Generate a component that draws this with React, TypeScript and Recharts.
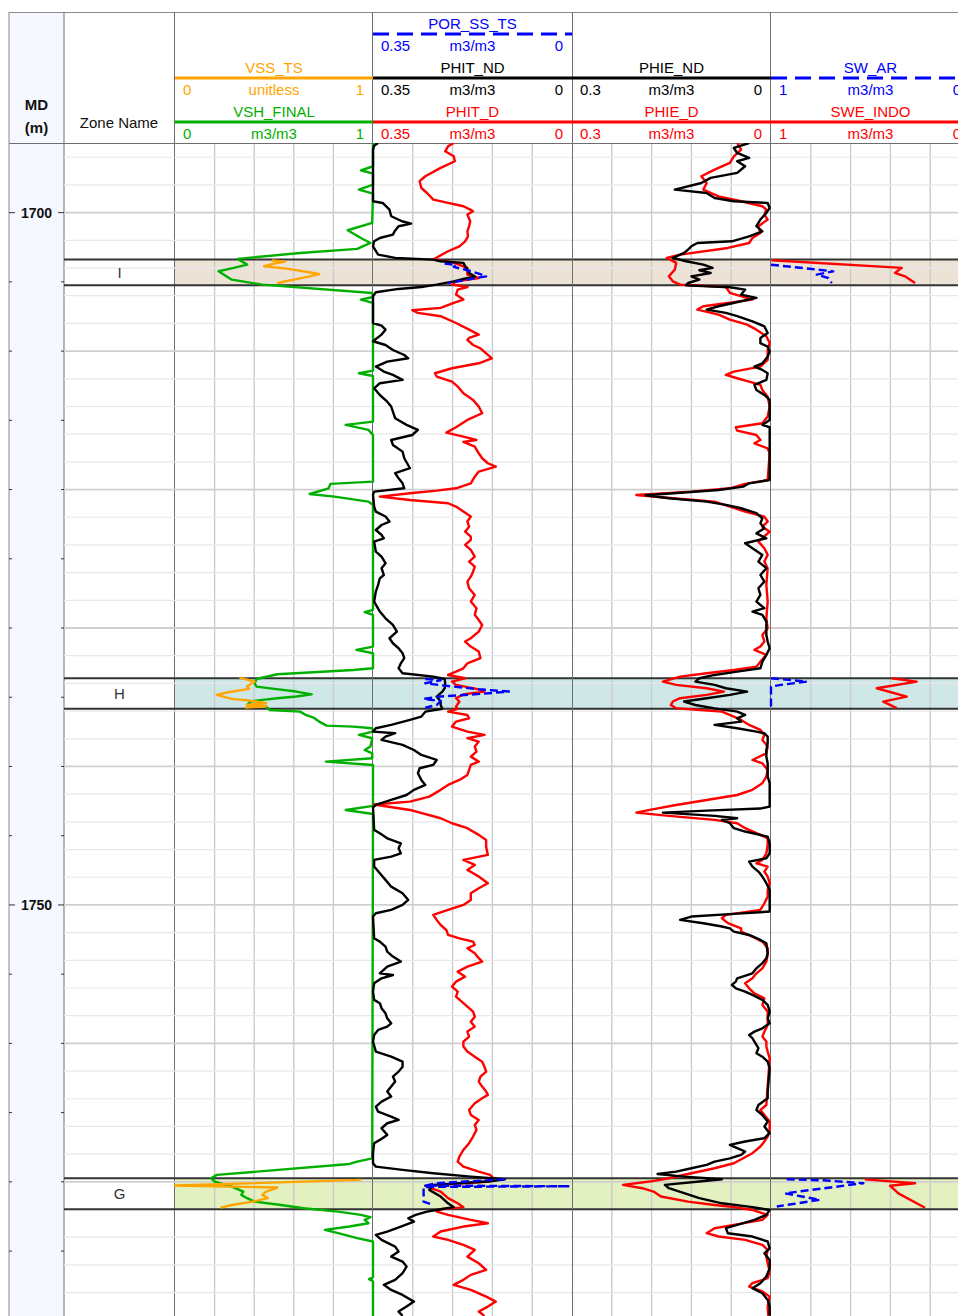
import React from "react";
import { LineChart, Line, XAxis, YAxis, ReferenceLine, ReferenceArea } from "recharts";

type Pt = [number, number | null];

// depth window of the plot (m MD)
const MD_TOP = 1694.97;
const MD_BASE = 1779.69;
const PLOT_TOP = 143;
const PLOT_H = 1173;

const FONT = '"Liberation Sans", Arial, Helvetica, sans-serif';
const BLUE = "#0000ff";
const RED = "#ff0000";
const GREEN = "#00b000";
const ORANGE = "#ffa500";
const BLACK = "#000000";

// zones
const zoneNames = ["I", "H", "G"];
const zoneTops = [1703.39, 1733.63, 1769.74];
const zoneBases = [1705.25, 1735.84, 1771.98];
const zoneFills = ["#ece2d5", "#cfe8e7", "#e3f0c0"];

// depth ticks / grid
const mdLabels = [1700, 1750];
const range = (a: number, b: number, step: number) => {
  const out: number[] = [];
  for (let v = a; v <= b + 1e-9; v += step) out.push(Math.round(v * 1000) / 1000);
  return out;
};
const mdTicks = range(1700, 1775, 5);
const gridMd = range(1696, 1778, 2);

// vertical grid per track
const vshGrid = [0.2, 0.4, 0.6, 0.8];
const phitGrid = [0.07, 0.14, 0.21, 0.28];
const phieGrid = [0.06, 0.12, 0.18, 0.24];
const swGrid = [0.2, 0.4, 0.6, 0.8];

// ---- curves: [MD, value]; null splits a curve into separate runs ----
const vshFinal: Pt[] = [
  [1694.97, 1], [1696.65, 1], [1696.94, 0.939], [1697.18, 1], [1697.98, 1], [1698.34, 0.929], [1698.63, 1],
  [1700.74, 0.996], [1701.27, 0.872], [1701.83, 0.939], [1702.19, 0.987], [1702.62, 0.92], [1702.91, 0.632],
  [1703.34, 0.316], [1703.75, 0.364], [1703.99, 0.297], [1704.23, 0.22], [1704.84, 0.287], [1705.2, 0.441],
  [1705.8, 0.996], [1706.09, 1], [1706.28, 0.939], [1706.52, 1], [1711.41, 1], [1711.6, 0.929], [1711.8, 1],
  [1715.09, 1], [1715.33, 0.862], [1715.69, 0.977], [1716.06, 1], [1719.43, 1], [1719.59, 0.785], [1719.91, 0.776],
  [1720.32, 0.68], [1720.51, 0.805], [1720.87, 0.977], [1721.11, 1], [1728.69, 1], [1728.86, 0.958], [1729.05, 1],
  [1731.34, 1], [1731.58, 0.916], [1731.82, 1], [1732.91, 1], [1733.03, 0.9], [1733.34, 0.517], [1733.68, 0.412],
  [1733.99, 0.402], [1734.23, 0.412], [1734.4, 0.502], [1734.59, 0.613], [1734.79, 0.69], [1734.95, 0.613],
  [1735.07, 0.517], [1735.19, 0.441], [1735.31, 0.383], [1735.56, 0.364], [1735.68, 0.46], [1735.92, 0.479],
  [1736.04, 0.632], [1736.28, 0.661], [1736.47, 0.699], [1736.76, 0.728], [1737.05, 0.766], [1737.12, 0.9],
  [1737.24, 0.996], [1737.48, 1], [1737.72, 0.929], [1737.96, 0.996], [1738.56, 0.987], [1738.81, 0.958],
  [1739.05, 0.996], [1739.41, 0.996], [1739.65, 0.762], [1739.89, 1], [1742.85, 1], [1743.14, 0.862], [1743.43, 1],
  [1768.3, 0.996], [1768.54, 0.92], [1768.71, 0.881], [1769.5, 0.211], [1769.74, 0.182], [1769.98, 0.201],
  [1770.34, 0.287], [1770.7, 0.345], [1770.94, 0.335], [1771.18, 0.364], [1771.43, 0.402], [1771.67, 0.536],
  [1771.91, 0.65], [1772.15, 0.824], [1772.39, 0.939], [1772.56, 0.987], [1772.75, 0.958], [1772.99, 0.977],
  [1773.23, 0.881], [1773.47, 0.757], [1773.71, 0.824], [1774.07, 0.92], [1774.31, 1], [1776.89, 1],
  [1777.03, 0.98], [1777.18, 1], [1779.69, 1],
];

const vssTs: Pt[] = [
  [1703.46, 0.489], [1703.54, 0.556], [1703.68, 0.5], [1703.87, 0.45], [1704.06, 0.575], [1704.43, 0.728],
  [1704.6, 0.68], [1705.08, 0.517], [1720, null],
  [1733.58, 0.326], [1733.87, 0.402], [1734.23, 0.364], [1734.4, 0.374], [1734.64, 0.268], [1734.83, 0.211],
  [1735.12, 0.287], [1735.24, 0.374], [1735.43, 0.46], [1735.55, 0.364], [1735.65, 0.46], [1735.75, 0.354], [1750, null],
  [1769.86, 0.939], [1770.27, 0], [1770.41, 0.517], [1770.7, 0.46], [1770.94, 0.441], [1771.18, 0.469],
  [1771.43, 0.393], [1771.67, 0.287], [1771.86, 0.23],
];

const phitNd: Pt[] = [
  [1694.97, 0.341], [1695.16, 0.348], [1695.45, 0.35], [1699.18, 0.35], [1699.3, 0.333], [1699.78, 0.321],
  [1700.26, 0.318], [1700.62, 0.299], [1700.79, 0.283], [1700.98, 0.305], [1701.35, 0.312], [1701.59, 0.315],
  [1701.83, 0.338], [1702.07, 0.348], [1702.43, 0.35], [1703.03, 0.341], [1703.27, 0.311], [1703.39, 0.244],
  [1703.51, 0.231], [1703.63, 0.191], [1703.87, 0.188], [1704.11, 0.184], [1704.36, 0.181], [1704.6, 0.171],
  [1704.79, 0.191], [1704.96, 0.208], [1705.2, 0.238], [1705.37, 0.265], [1705.51, 0.305], [1705.75, 0.345],
  [1706.04, 0.35], [1707.97, 0.35], [1708.16, 0.335], [1708.45, 0.328], [1708.81, 0.335], [1709.29, 0.35],
  [1709.56, 0.328], [1709.92, 0.315], [1710.28, 0.295], [1710.52, 0.288], [1710.76, 0.325], [1711.12, 0.345],
  [1711.48, 0.331], [1711.72, 0.315], [1712.08, 0.298], [1712.32, 0.338], [1712.69, 0.348], [1713.17, 0.338],
  [1713.65, 0.325], [1714.01, 0.318], [1714.37, 0.315], [1714.85, 0.311], [1715.33, 0.291], [1715.69, 0.271],
  [1716.06, 0.281], [1716.42, 0.318], [1716.78, 0.315], [1717.26, 0.298], [1717.74, 0.295], [1718.46, 0.285],
  [1718.82, 0.311], [1719.19, 0.305], [1719.55, 0.298], [1719.91, 0.295], [1720.15, 0.348], [1720.39, 0.35],
  [1721.23, 0.348], [1721.59, 0.345], [1721.95, 0.328], [1722.31, 0.321], [1722.56, 0.335], [1722.92, 0.345],
  [1723.28, 0.335], [1723.52, 0.331], [1723.76, 0.348], [1724.48, 0.345], [1724.84, 0.335], [1725.32, 0.328],
  [1725.68, 0.335], [1726.17, 0.331], [1726.41, 0.338], [1726.89, 0.341], [1727.37, 0.345], [1728.09, 0.348],
  [1728.81, 0.338], [1729.3, 0.328], [1729.78, 0.315], [1730.26, 0.308], [1730.74, 0.321], [1731.1, 0.315],
  [1731.46, 0.305], [1731.82, 0.298], [1732.18, 0.295], [1732.55, 0.301], [1732.91, 0.305], [1733.27, 0.298],
  [1733.51, 0.244], [1733.68, 0.224], [1733.99, 0.223], [1734.35, 0.224], [1734.59, 0.228], [1734.95, 0.238],
  [1735.31, 0.231], [1735.56, 0.231], [1735.84, 0.228], [1736.04, 0.258], [1736.4, 0.265], [1736.64, 0.285],
  [1737.0, 0.318], [1737.24, 0.345], [1737.48, 0.35], [1737.6, 0.311], [1737.84, 0.328], [1738.08, 0.335],
  [1738.44, 0.298], [1738.81, 0.278], [1739.17, 0.265], [1739.53, 0.238], [1739.89, 0.244], [1740.13, 0.268],
  [1740.49, 0.271], [1740.97, 0.265], [1741.33, 0.258], [1741.69, 0.278], [1742.06, 0.291], [1742.42, 0.318],
  [1742.78, 0.345], [1742.95, 0.35], [1744.58, 0.348], [1744.82, 0.338], [1745.19, 0.325], [1745.55, 0.301],
  [1745.91, 0.305], [1746.27, 0.301], [1746.51, 0.318], [1746.75, 0.348], [1747.23, 0.348], [1747.71, 0.338],
  [1748.19, 0.328], [1748.68, 0.318], [1749.16, 0.298], [1749.64, 0.288], [1750.0, 0.298], [1750.36, 0.318],
  [1750.6, 0.345], [1750.84, 0.35], [1752.41, 0.348], [1752.65, 0.338], [1753.01, 0.328], [1753.37, 0.325],
  [1753.73, 0.315], [1754.09, 0.301], [1754.46, 0.325], [1754.94, 0.338], [1755.06, 0.315], [1755.3, 0.335],
  [1755.66, 0.348], [1756.26, 0.35], [1756.86, 0.348], [1757.1, 0.338], [1757.46, 0.335], [1757.83, 0.328],
  [1758.19, 0.325], [1758.55, 0.318], [1758.79, 0.325], [1759.03, 0.341], [1759.39, 0.348], [1759.87, 0.35],
  [1760.59, 0.345], [1760.96, 0.318], [1761.32, 0.298], [1761.68, 0.298], [1762.04, 0.305], [1762.4, 0.315],
  [1762.76, 0.311], [1763.12, 0.318], [1763.48, 0.325], [1763.84, 0.318], [1764.21, 0.335], [1764.57, 0.345],
  [1764.93, 0.341], [1765.29, 0.318], [1765.53, 0.305], [1765.77, 0.325], [1766.13, 0.335], [1766.61, 0.325],
  [1766.97, 0.338], [1767.21, 0.348], [1767.93, 0.35], [1768.66, 0.35], [1768.9, 0.345], [1769.14, 0.298],
  [1769.38, 0.244], [1769.62, 0.178], [1769.81, 0.118], [1769.96, 0.144], [1770.22, 0.244], [1770.58, 0.251],
  [1771.06, 0.231], [1771.55, 0.218], [1771.83, 0.208], [1771.98, 0.231], [1772.15, 0.255], [1772.39, 0.275],
  [1772.63, 0.288], [1772.87, 0.278], [1773.23, 0.301], [1773.59, 0.325], [1773.83, 0.345], [1774.19, 0.335],
  [1774.68, 0.311], [1775.04, 0.305], [1775.4, 0.318], [1775.76, 0.298], [1776.12, 0.291], [1776.6, 0.298],
  [1777.08, 0.311], [1777.44, 0.331], [1777.81, 0.318], [1778.17, 0.298], [1778.65, 0.278], [1779.01, 0.291],
  [1779.37, 0.305], [1779.68, 0.298],
];

const phitD: Pt[] = [
  [1694.97, 0.208], [1695.21, 0.218], [1695.57, 0.223], [1695.93, 0.208], [1696.29, 0.206], [1696.77, 0.231],
  [1697.37, 0.258], [1697.73, 0.268], [1698.22, 0.265], [1698.58, 0.255], [1699.06, 0.244], [1699.3, 0.218],
  [1699.54, 0.191], [1699.78, 0.179], [1699.9, 0.174], [1700.14, 0.184], [1700.62, 0.179], [1700.98, 0.181],
  [1701.35, 0.184], [1701.71, 0.183], [1702.07, 0.188], [1702.43, 0.198], [1702.79, 0.218], [1703.15, 0.234],
  [1703.39, 0.244], [1703.58, 0.211], [1703.99, 0.184], [1704.48, 0.184], [1704.72, 0.164], [1704.96, 0.204],
  [1705.2, 0.211], [1705.37, 0.184], [1705.56, 0.201], [1705.92, 0.204], [1706.28, 0.191], [1706.52, 0.208],
  [1706.88, 0.231], [1707.05, 0.281], [1707.24, 0.271], [1707.48, 0.231], [1707.97, 0.204], [1708.45, 0.181],
  [1708.81, 0.164], [1709.05, 0.181], [1709.19, 0.184], [1709.56, 0.174], [1709.8, 0.161], [1710.16, 0.151],
  [1710.52, 0.141], [1710.88, 0.164], [1711.24, 0.211], [1711.6, 0.241], [1711.84, 0.238], [1712.2, 0.211],
  [1712.56, 0.201], [1713.05, 0.191], [1713.53, 0.174], [1714.01, 0.164], [1714.49, 0.158], [1714.97, 0.184],
  [1715.5, 0.204], [1715.89, 0.221], [1716.18, 0.191], [1716.42, 0.168], [1716.56, 0.191], [1716.9, 0.171],
  [1717.38, 0.164], [1717.74, 0.158], [1718.1, 0.148], [1718.34, 0.134], [1718.7, 0.164], [1719.07, 0.171],
  [1719.55, 0.178], [1719.91, 0.204], [1720.08, 0.238], [1720.27, 0.285], [1720.51, 0.338], [1720.75, 0.285],
  [1720.99, 0.218], [1721.23, 0.204], [1721.59, 0.191], [1721.95, 0.178], [1722.31, 0.184], [1722.68, 0.181],
  [1723.04, 0.188], [1723.4, 0.178], [1723.64, 0.178], [1724.0, 0.188], [1724.36, 0.178], [1724.84, 0.171],
  [1725.2, 0.181], [1725.56, 0.171], [1725.93, 0.174], [1726.29, 0.178], [1726.65, 0.184], [1727.13, 0.181],
  [1727.61, 0.171], [1728.09, 0.178], [1728.57, 0.168], [1729.05, 0.171], [1729.42, 0.164], [1729.78, 0.158],
  [1730.26, 0.164], [1730.74, 0.178], [1730.98, 0.188], [1731.34, 0.178], [1731.7, 0.164], [1732.18, 0.161],
  [1732.55, 0.184], [1732.91, 0.191], [1733.15, 0.204], [1733.39, 0.218], [1733.63, 0.188], [1733.87, 0.211],
  [1734.11, 0.204], [1734.4, 0.168], [1734.59, 0.154], [1734.79, 0.191], [1735.07, 0.204], [1735.31, 0.198],
  [1735.68, 0.204], [1735.84, 0.201], [1736.04, 0.218], [1736.28, 0.184], [1736.52, 0.181], [1736.76, 0.204],
  [1737.12, 0.211], [1737.48, 0.184], [1737.72, 0.154], [1737.96, 0.184], [1738.2, 0.164], [1738.56, 0.171],
  [1738.93, 0.168], [1739.29, 0.178], [1739.65, 0.164], [1739.89, 0.178], [1740.25, 0.181], [1740.61, 0.184],
  [1740.97, 0.198], [1741.33, 0.218], [1741.69, 0.231], [1742.18, 0.251], [1742.54, 0.285], [1742.75, 0.348],
  [1743.14, 0.285], [1743.74, 0.231], [1744.1, 0.211], [1744.46, 0.184], [1744.94, 0.164], [1745.31, 0.151],
  [1745.79, 0.151], [1746.39, 0.148], [1746.75, 0.191], [1747.11, 0.171], [1747.47, 0.184], [1747.95, 0.164],
  [1748.43, 0.148], [1748.8, 0.164], [1749.16, 0.178], [1749.64, 0.178], [1750.0, 0.191], [1750.36, 0.218],
  [1750.72, 0.244], [1751.08, 0.238], [1751.45, 0.231], [1751.81, 0.221], [1752.17, 0.218], [1752.41, 0.198],
  [1752.65, 0.174], [1752.89, 0.171], [1753.13, 0.184], [1753.49, 0.171], [1753.85, 0.164], [1754.09, 0.158],
  [1754.46, 0.184], [1754.82, 0.201], [1755.18, 0.188], [1755.54, 0.204], [1755.9, 0.211], [1756.26, 0.201],
  [1756.62, 0.204], [1756.98, 0.194], [1757.34, 0.184], [1757.71, 0.174], [1758.07, 0.171], [1758.43, 0.178],
  [1758.79, 0.171], [1759.15, 0.184], [1759.51, 0.181], [1759.87, 0.191], [1760.23, 0.191], [1760.59, 0.184],
  [1760.96, 0.171], [1761.32, 0.158], [1761.68, 0.154], [1762.04, 0.151], [1762.4, 0.161], [1762.76, 0.164],
  [1763.12, 0.158], [1763.48, 0.151], [1763.72, 0.148], [1763.96, 0.158], [1764.33, 0.171], [1764.81, 0.181],
  [1765.17, 0.178], [1765.53, 0.164], [1765.89, 0.171], [1766.25, 0.168], [1766.73, 0.174], [1767.21, 0.181],
  [1767.69, 0.191], [1768.17, 0.198], [1768.54, 0.201], [1768.9, 0.191], [1769.26, 0.164], [1769.5, 0.144],
  [1769.74, 0.138], [1769.98, 0.144], [1770.29, 0.258], [1770.7, 0.231], [1771.18, 0.218], [1771.55, 0.201],
  [1771.83, 0.191], [1771.98, 0.231], [1772.15, 0.238], [1772.39, 0.218], [1772.75, 0.178], [1772.99, 0.148],
  [1773.23, 0.191], [1773.59, 0.231], [1773.95, 0.244], [1774.19, 0.218], [1774.55, 0.191], [1774.92, 0.171],
  [1775.4, 0.184], [1775.88, 0.164], [1776.36, 0.151], [1776.72, 0.178], [1777.08, 0.191], [1777.44, 0.208],
  [1777.81, 0.178], [1778.29, 0.151], [1778.65, 0.134], [1779.01, 0.148], [1779.37, 0.164], [1779.68, 0.154],
];

const porSsTs: Pt[] = [
  [1703.68, 0.224], [1703.78, 0.204], [1703.92, 0.208], [1704.16, 0.184], [1704.4, 0.164], [1704.6, 0.151],
  [1704.84, 0.184], [1705.08, 0.218], [1720, null],
  [1733.68, 0.258], [1733.77, 0.231], [1733.99, 0.258], [1734.16, 0.224], [1734.42, 0.164], [1734.59, 0.111],
  [1734.79, 0.171], [1734.95, 0.231], [1735.12, 0.261], [1735.27, 0.231], [1735.56, 0.238], [1735.75, 0.258], [1750, null],
  [1769.81, 0.118], [1770.1, 0.238], [1770.27, 0.258], [1770.32, 0.004], [1770.37, 0.261], [1771.43, 0.261],
  [1771.67, 0.244],
];

const phieNd: Pt[] = [
  [1694.97, 0.033], [1695.33, 0.056], [1695.69, 0.051], [1696.05, 0.033], [1696.29, 0.051], [1696.65, 0.039],
  [1697.13, 0.051], [1697.49, 0.091], [1697.86, 0.105], [1698.34, 0.145], [1698.58, 0.097], [1698.94, 0.085],
  [1699.18, 0.056], [1699.3, 0.005], [1699.66, 0.002], [1700.02, 0.007], [1700.5, 0.016], [1700.98, 0.022],
  [1701.35, 0.013], [1701.71, 0.033], [1702.07, 0.059], [1702.19, 0.111], [1702.43, 0.12], [1702.67, 0.125],
  [1702.91, 0.131], [1703.27, 0.148], [1703.51, 0.128], [1703.75, 0.102], [1703.99, 0.088], [1704.16, 0.108],
  [1704.36, 0.091], [1704.6, 0.12], [1704.84, 0.108], [1705.08, 0.125], [1705.25, 0.128], [1705.39, 0.062],
  [1705.56, 0.039], [1705.92, 0.045], [1706.16, 0.022], [1706.4, 0.045], [1706.76, 0.079], [1707.0, 0.097],
  [1707.24, 0.068], [1707.48, 0.051], [1707.85, 0.028], [1708.21, 0.01], [1708.69, 0.005], [1709.05, 0.016],
  [1709.43, 0.016], [1709.68, 0.005], [1710.04, 0.002], [1710.4, 0.005], [1710.88, 0.013], [1711.12, 0.025],
  [1711.36, 0.013], [1711.6, 0.005], [1712.08, 0.007], [1712.44, 0.025], [1712.81, 0.022], [1713.17, 0.01],
  [1713.53, 0.002], [1714.97, 0.002], [1715.33, 0.013], [1715.5, 0.002], [1719.31, 0.002], [1719.55, 0.033],
  [1719.79, 0.042], [1720.03, 0.079], [1720.41, 0.189], [1720.63, 0.154], [1720.87, 0.097], [1721.11, 0.068],
  [1721.35, 0.045], [1721.71, 0.022], [1722.07, 0.013], [1722.44, 0.016], [1722.8, 0.01], [1723.16, 0.022],
  [1723.52, 0.007], [1723.88, 0.039], [1724.24, 0.028], [1724.72, 0.013], [1725.2, 0.019], [1725.68, 0.007],
  [1726.17, 0.016], [1726.65, 0.01], [1727.13, 0.019], [1727.61, 0.016], [1728.09, 0.022], [1728.57, 0.01],
  [1728.81, 0.028], [1729.05, 0.013], [1729.54, 0.007], [1730.5, 0.007], [1730.98, 0.005], [1731.46, 0.002],
  [1731.94, 0.007], [1732.43, 0.013], [1732.91, 0.016], [1733.15, 0.051], [1733.39, 0.085], [1733.63, 0.108],
  [1733.87, 0.114], [1734.11, 0.085], [1734.35, 0.068], [1734.59, 0.036], [1734.83, 0.062], [1735.07, 0.097],
  [1735.31, 0.131], [1735.56, 0.114], [1735.8, 0.085], [1736.04, 0.051], [1736.28, 0.039], [1736.52, 0.051],
  [1736.76, 0.045], [1737.0, 0.085], [1737.24, 0.051], [1737.48, 0.022], [1737.6, 0.01], [1737.84, 0.005],
  [1738.32, 0.005], [1738.81, 0.007], [1739.29, 0.007], [1739.77, 0.005], [1740.73, 0.005], [1741.21, 0.002],
  [1742.9, 0.002], [1743.04, 0.016], [1743.19, 0.097], [1743.33, 0.163], [1743.57, 0.085], [1743.74, 0.051],
  [1743.86, 0.074], [1744.1, 0.062], [1744.46, 0.056], [1744.7, 0.039], [1745.07, 0.005], [1745.55, 0.002],
  [1746.27, 0.002], [1746.63, 0.007], [1746.87, 0.033], [1747.23, 0.028], [1747.59, 0.019], [1747.95, 0.013],
  [1748.43, 0.007], [1748.92, 0.002], [1750.48, 0.002], [1750.65, 0.056], [1750.84, 0.12], [1751.08, 0.137],
  [1751.32, 0.102], [1751.56, 0.074], [1751.69, 0.062], [1751.93, 0.056], [1752.17, 0.033], [1752.53, 0.016],
  [1752.77, 0.007], [1753.49, 0.005], [1753.85, 0.007], [1754.21, 0.013], [1754.58, 0.022], [1754.94, 0.028],
  [1755.3, 0.051], [1755.54, 0.053], [1755.78, 0.059], [1756.02, 0.053], [1756.26, 0.039], [1756.5, 0.028],
  [1756.86, 0.013], [1757.22, 0.005], [1757.71, 0.002], [1758.19, 0.005], [1758.55, 0.002], [1758.91, 0.013],
  [1759.15, 0.025], [1759.39, 0.033], [1759.63, 0.028], [1759.87, 0.025], [1760.11, 0.022], [1760.35, 0.019],
  [1760.71, 0.022], [1760.96, 0.013], [1761.32, 0.005], [1761.8, 0.002], [1763.48, 0.005], [1763.96, 0.005],
  [1764.45, 0.019], [1764.81, 0.022], [1765.17, 0.013], [1765.65, 0.005], [1766.01, 0.01], [1766.49, 0.002],
  [1766.85, 0.01], [1767.09, 0.039], [1767.33, 0.062], [1767.57, 0.051], [1767.81, 0.039], [1768.05, 0.045],
  [1768.3, 0.062], [1768.54, 0.085], [1768.78, 0.097], [1769.02, 0.12], [1769.26, 0.143], [1769.43, 0.171],
  [1769.62, 0.131], [1769.81, 0.074], [1769.98, 0.108], [1770.22, 0.16], [1770.46, 0.154], [1770.82, 0.131],
  [1771.18, 0.108], [1771.55, 0.074], [1771.83, 0.028], [1772.03, 0.002], [1772.39, 0.007], [1772.75, 0.025],
  [1773.11, 0.051], [1773.35, 0.068], [1773.71, 0.065], [1773.95, 0.028], [1774.31, 0.005], [1774.8, 0.002],
  [1775.16, 0.01], [1775.64, 0.002], [1776.24, 0.002], [1776.84, 0.007], [1777.32, 0.016], [1777.68, 0.028],
  [1778.05, 0.013], [1778.53, 0.005], [1779.01, 0.002], [1779.68, 0.002],
];

const phieD: Pt[] = [
  [1694.97, 0.051], [1695.45, 0.045], [1695.93, 0.056], [1696.41, 0.062], [1696.89, 0.085], [1697.37, 0.105],
  [1697.86, 0.097], [1698.34, 0.102], [1698.82, 0.079], [1699.18, 0.045], [1699.54, 0.013], [1699.78, 0.007],
  [1700.14, 0.01], [1700.5, 0.005], [1700.98, 0.019], [1701.47, 0.016], [1701.83, 0.028], [1702.19, 0.033],
  [1702.55, 0.065], [1703.03, 0.137], [1703.27, 0.157], [1703.63, 0.143], [1704.11, 0.145], [1704.6, 0.154],
  [1704.96, 0.148], [1705.2, 0.137], [1705.37, 0.068], [1705.8, 0.062], [1706.28, 0.028], [1706.76, 0.102],
  [1707.0, 0.111], [1707.37, 0.079], [1707.73, 0.062], [1708.09, 0.036], [1708.45, 0.022], [1708.93, 0.007],
  [1709.41, 0.002], [1709.92, 0.005], [1710.64, 0.005], [1711.12, 0.016], [1711.48, 0.056], [1711.72, 0.068],
  [1711.96, 0.051], [1712.2, 0.033], [1712.44, 0.016], [1712.81, 0.013], [1713.29, 0.005], [1714.01, 0.002],
  [1714.73, 0.005], [1715.21, 0.013], [1715.5, 0.053], [1715.74, 0.051], [1716.06, 0.022], [1716.42, 0.016],
  [1716.66, 0.025], [1717.02, 0.005], [1717.38, 0.002], [1719.31, 0.005], [1719.59, 0.039], [1719.91, 0.062],
  [1720.15, 0.12], [1720.39, 0.203], [1720.63, 0.148], [1720.87, 0.085], [1721.23, 0.062], [1721.59, 0.039],
  [1721.95, 0.01], [1722.31, 0.005], [1722.68, 0.013], [1723.04, 0.002], [1723.76, 0.019], [1724.24, 0.01],
  [1724.72, 0.005], [1725.2, 0.01], [1725.68, 0.005], [1726.89, 0.007], [1728.09, 0.005], [1729.3, 0.007],
  [1730.02, 0.005], [1730.5, 0.013], [1730.98, 0.01], [1731.34, 0.016], [1731.58, 0.025], [1731.94, 0.007],
  [1732.43, 0.016], [1732.79, 0.022], [1733.03, 0.056], [1733.27, 0.097], [1733.51, 0.137], [1733.87, 0.163],
  [1734.11, 0.143], [1734.35, 0.097], [1734.59, 0.071], [1734.83, 0.097], [1735.07, 0.137], [1735.31, 0.148],
  [1735.56, 0.151], [1735.8, 0.143], [1736.04, 0.074], [1736.4, 0.056], [1736.64, 0.045], [1737.0, 0.033],
  [1737.36, 0.016], [1737.72, 0.01], [1738.08, 0.013], [1738.56, 0.005], [1739.05, 0.007], [1739.53, 0.028],
  [1739.77, 0.013], [1740.25, 0.005], [1740.73, 0.007], [1741.21, 0.013], [1741.69, 0.028], [1742.06, 0.051],
  [1742.42, 0.097], [1742.78, 0.143], [1743.14, 0.183], [1743.33, 0.203], [1743.57, 0.154], [1743.86, 0.085],
  [1744.1, 0.051], [1744.46, 0.039], [1744.82, 0.022], [1745.19, 0.005], [1745.67, 0.005], [1746.27, 0.007],
  [1746.75, 0.013], [1746.99, 0.022], [1747.23, 0.005], [1747.59, 0.01], [1747.95, 0.005], [1748.43, 0.002],
  [1748.92, 0.005], [1749.4, 0.005], [1749.88, 0.01], [1750.36, 0.016], [1750.72, 0.068], [1750.96, 0.074],
  [1751.32, 0.065], [1751.69, 0.045], [1751.93, 0.045], [1752.29, 0.028], [1752.65, 0.013], [1753.13, 0.005],
  [1753.61, 0.005], [1754.09, 0.007], [1754.58, 0.013], [1754.94, 0.022], [1755.3, 0.028], [1755.66, 0.039],
  [1756.02, 0.033], [1756.38, 0.025], [1756.74, 0.01], [1757.22, 0.013], [1757.71, 0.005], [1758.67, 0.005],
  [1759.15, 0.01], [1759.51, 0.013], [1759.87, 0.007], [1760.23, 0.007], [1760.59, 0.005], [1761.08, 0.002],
  [1764.45, 0.007], [1764.81, 0.016], [1765.17, 0.01], [1765.65, 0.002], [1766.25, 0.002], [1766.73, 0.005],
  [1767.09, 0.01], [1767.45, 0.016], [1767.93, 0.028], [1768.3, 0.042], [1768.66, 0.056], [1769.02, 0.085],
  [1769.38, 0.12], [1769.74, 0.154], [1769.98, 0.183], [1770.22, 0.223], [1770.46, 0.194], [1770.7, 0.177],
  [1771.06, 0.166], [1771.43, 0.125], [1771.67, 0.085], [1771.83, 0.056], [1772.03, 0.028], [1772.39, 0.005],
  [1772.75, 0.013], [1773.11, 0.056], [1773.35, 0.085], [1773.71, 0.097], [1773.95, 0.079], [1774.19, 0.039],
  [1774.55, 0.013], [1774.92, 0.005], [1775.4, 0.007], [1775.88, 0.005], [1776.48, 0.002], [1776.96, 0.005],
  [1777.32, 0.028], [1777.56, 0.033], [1777.92, 0.013], [1778.29, 0.002], [1779.01, 0.005], [1779.68, 0.004],
];

const swAr: Pt[] = [
  [1703.76, 1], [1704.07, 0.795], [1704.24, 0.687], [1704.48, 0.77], [1704.72, 0.712], [1705.08, 0.695], [1720, null],
  [1733.63, 1], [1733.87, 0.82], [1734.11, 0.95], [1734.23, 1], [1735.79, 1], [1750, null],
  [1769.82, 0.921], [1769.89, 0.737], [1770.1, 0.536], [1770.83, 0.93], [1771.3, 0.754], [1771.78, 0.971],
];

const sweIndo: Pt[] = [
  [1703.44, 0.997], [1703.99, 0.343], [1704.35, 0.377], [1704.6, 0.327], [1705.08, 0.276], [1720, null],
  [1733.63, 0.394], [1733.87, 0.268], [1734.35, 0.469], [1734.96, 0.318], [1735.32, 0.436], [1735.79, 0.368], [1750, null],
  [1769.82, 0.528], [1770.1, 0.276], [1770.28, 0.402], [1770.83, 0.36], [1771.87, 0.226],
];

// split a curve at its null entries, one row list per continuous run
const runs = (pts: Pt[]) => {
  const out: { md: number; v: number }[][] = [[]];
  pts.forEach(([md, v]) => {
    if (v === null) out.push([]);
    else out[out.length - 1].push({ md, v });
  });
  return out.filter((r) => r.length > 1);
};

type Curve = { pts: Pt[]; color: string; dashed?: boolean };
type TrackDef = {
  left: number;
  width: number;
  domain: [number, number];
  reversed: boolean;
  grid: number[];
  curves: Curve[];
};

const tracks: TrackDef[] = [
  {
    left: 175, width: 198, domain: [0, 1], reversed: false, grid: vshGrid,
    curves: [{ pts: vshFinal, color: GREEN }, { pts: vssTs, color: ORANGE }],
  },
  {
    left: 373, width: 199, domain: [0, 0.35], reversed: true, grid: phitGrid,
    curves: [{ pts: phitD, color: RED }, { pts: phitNd, color: BLACK }, { pts: porSsTs, color: BLUE, dashed: true }],
  },
  {
    left: 572, width: 199, domain: [0, 0.3], reversed: true, grid: phieGrid,
    curves: [{ pts: phieD, color: RED }, { pts: phieNd, color: BLACK }],
  },
  {
    left: 771, width: 199, domain: [0, 1], reversed: true, grid: swGrid,
    curves: [{ pts: sweIndo, color: RED }, { pts: swAr, color: BLUE, dashed: true }],
  },
];

const headerCurves = [
  { track: 1, lineY: 34, name: "POR_SS_TS", lo: "0.35", unit: "m3/m3", hi: "0", color: BLUE, dashed: true },
  { track: 0, lineY: 78, name: "VSS_TS", lo: "0", unit: "unitless", hi: "1", color: ORANGE },
  { track: 0, lineY: 122, name: "VSH_FINAL", lo: "0", unit: "m3/m3", hi: "1", color: GREEN },
  { track: 1, lineY: 78, name: "PHIT_ND", lo: "0.35", unit: "m3/m3", hi: "0", color: BLACK },
  { track: 1, lineY: 122, name: "PHIT_D", lo: "0.35", unit: "m3/m3", hi: "0", color: RED },
  { track: 2, lineY: 78, name: "PHIE_ND", lo: "0.3", unit: "m3/m3", hi: "0", color: BLACK },
  { track: 2, lineY: 122, name: "PHIE_D", lo: "0.3", unit: "m3/m3", hi: "0", color: RED },
  { track: 3, lineY: 78, name: "SW_AR", lo: "1", unit: "m3/m3", hi: "0", color: BLUE, dashed: true },
  { track: 3, lineY: 122, name: "SWE_INDO", lo: "1", unit: "m3/m3", hi: "0", color: RED },
];

const M0 = { top: 0, right: 0, bottom: 0, left: 0 };
// curve layer gets a little slack on both sides so edge-hugging curves keep their full stroke
const PAD = 2;
const MPAD = { top: 0, right: PAD, bottom: 0, left: PAD };
const MD_W = 55;
// the two ends of the depth window, so layers without curves still get scales
const depthEnds = [{ md: MD_TOP }, { md: MD_BASE }];

const hGrid = (prefix: string) =>
  gridMd.map((d) => (
    <ReferenceLine
      key={`${prefix}-h${d}`}
      y={d}
      stroke={d % 10 === 0 ? "#d0d0d0" : "#e7e7e7"}
      strokeWidth={d % 10 === 0 ? 1.8 : 1.2}
    />
  ));

const zoneLines = (prefix: string) =>
  zoneNames.flatMap((z, i) => [
    <ReferenceLine key={`${prefix}-zt${z}`} y={zoneTops[i]} stroke="#333333" strokeWidth={2} />,
    <ReferenceLine key={`${prefix}-zb${z}`} y={zoneBases[i]} stroke="#333333" strokeWidth={2} />,
  ]);

function TrackBack({ t }: { t: TrackDef }) {
  return (
    <LineChart layout="vertical" width={t.width} height={PLOT_H} margin={M0} data={depthEnds}>
      <XAxis type="number" domain={t.domain} reversed={t.reversed} allowDataOverflow hide />
      <YAxis type="number" dataKey="md" domain={[MD_TOP, MD_BASE]} allowDataOverflow hide />
      {zoneNames.map((z, i) => (
        <ReferenceArea key={`fill${z}`} y1={zoneTops[i]} y2={zoneBases[i]} fill={zoneFills[i]} fillOpacity={1} stroke="none" />
      ))}
      {t.grid.map((v) => (
        <ReferenceLine key={`v${v}`} x={v} stroke="#cbcbcb" strokeWidth={1.4} />
      ))}
      {hGrid("b")}
      {zoneLines("b")}
    </LineChart>
  );
}

function TrackFront({ t }: { t: TrackDef }) {
  return (
    <LineChart layout="vertical" width={t.width + 2 * PAD} height={PLOT_H} margin={MPAD}>
      <XAxis type="number" domain={t.domain} reversed={t.reversed} hide />
      <YAxis type="number" dataKey="md" domain={[MD_TOP, MD_BASE]} hide />
      {t.curves.flatMap((c, i) =>
        runs(c.pts).map((r, j) => (
          <Line
            key={`c${i}-${j}`}
            data={r}
            dataKey="v"
            type="linear"
            stroke={c.color}
            strokeWidth={2.4}
            strokeDasharray={c.dashed ? "8 4" : undefined}
            strokeLinejoin="round"
            dot={false}
            activeDot={false}
            isAnimationActive={false}
          />
        ))
      )}
    </LineChart>
  );
}

function MdTick(props: any) {
  const { y, payload } = props;
  const md = payload.value as number;
  const major = mdLabels.includes(md);
  const len = major ? 6 : 3;
  return (
    <g>
      <line x1={0} x2={len} y1={y} y2={y} stroke="#333" strokeWidth={1} />
      <line x1={MD_W - len} x2={MD_W} y1={y} y2={y} stroke="#333" strokeWidth={1} />
      {major && (
        <text x={MD_W / 2} y={y} textAnchor="middle" dominantBaseline="central" fontWeight="bold" fontSize={14} fill="#111" fontFamily={FONT}>
          {md}
        </text>
      )}
    </g>
  );
}

// depth column + zone name column share one chart
function DepthZoneColumn() {
  return (
    <LineChart layout="vertical" width={166} height={PLOT_H} margin={M0} data={depthEnds}>
      <XAxis type="number" domain={[0, 1]} allowDataOverflow hide />
      <YAxis
        type="number"
        dataKey="md"
        domain={[MD_TOP, MD_BASE]}
        allowDataOverflow
        ticks={mdTicks}
        interval={0}
        width={MD_W}
        axisLine={false}
        tickLine={false}
        tick={<MdTick />}
      />
      {hGrid("z")}
      {zoneLines("z")}
      {zoneNames.map((z, i) => (
        <ReferenceArea
          key={`zl${z}`}
          y1={zoneTops[i]}
          y2={zoneBases[i]}
          fillOpacity={0}
          stroke="none"
          label={{ value: z, position: "center", fill: "#333", fontSize: 15, fontFamily: FONT }}
        />
      ))}
    </LineChart>
  );
}

function Header() {
  const trackLeft = tracks.map((t) => t.left);
  const trackW = tracks.map((t) => t.width);
  return (
    <svg width={958} height={143} style={{ position: "absolute", left: 0, top: 0 }} fontFamily={FONT} fontSize={15}>
      <text x={36.5} y={104} textAnchor="middle" dominantBaseline="central" fontWeight="bold" fill="#111">MD</text>
      <text x={36.5} y={127} textAnchor="middle" dominantBaseline="central" fontWeight="bold" fill="#111">(m)</text>
      <text x={119} y={122} textAnchor="middle" dominantBaseline="central" fill="#111">Zone Name</text>
      {headerCurves.map((h) => {
        const x0 = trackLeft[h.track];
        const w = trackW[h.track];
        return (
          <g key={h.name}>
            <text x={x0 + w / 2} y={h.lineY - 11} textAnchor="middle" dominantBaseline="central" fill={h.color}>{h.name}</text>
            <line
              x1={x0}
              x2={x0 + w}
              y1={h.lineY}
              y2={h.lineY}
              stroke={h.color}
              strokeWidth={3}
              strokeDasharray={h.dashed ? "16 8" : undefined}
            />
            <text x={x0 + 8} y={h.lineY + 11} textAnchor="start" dominantBaseline="central" fill={h.color}>{h.lo}</text>
            <text x={x0 + w / 2} y={h.lineY + 11} textAnchor="middle" dominantBaseline="central" fill={h.color}>{h.unit}</text>
            <text x={x0 + w - 9} y={h.lineY + 11} textAnchor="end" dominantBaseline="central" fill={h.color}>{h.hi}</text>
          </g>
        );
      })}
    </svg>
  );
}

function Frame() {
  const seps = [64, 174.5, 372.5, 572.5, 770.5];
  return (
    <svg width={958} height={1316} style={{ position: "absolute", left: 0, top: 0 }}>
      <line x1={9} x2={958} y1={12.5} y2={12.5} stroke="#8a8a8a" strokeWidth={1} />
      <line x1={9} x2={958} y1={143.5} y2={143.5} stroke="#6e6e6e" strokeWidth={1} />
      <line x1={9} x2={9} y1={12} y2={1316} stroke="#8a8a8a" strokeWidth={1} />
      {seps.map((x) => (
        <line key={x} x1={x} x2={x} y1={12} y2={1316} stroke="#6e6e6e" strokeWidth={1} />
      ))}
    </svg>
  );
}

export default function App() {
  return (
    <div
      style={{
        position: "fixed",
        left: 0,
        top: 0,
        width: 958,
        height: 1316,
        overflow: "hidden",
        background: "#ffffff",
        fontFamily: FONT,
      }}
    >
      <div style={{ position: "absolute", left: 9, top: 12, width: 55, height: 1304, background: "#f5f9ff" }} />
      {tracks.map((t, i) => (
        <div key={`b${i}`} style={{ position: "absolute", left: t.left, top: PLOT_TOP }}>
          <TrackBack t={t} />
        </div>
      ))}
      <Frame />
      <div style={{ position: "absolute", left: 9, top: PLOT_TOP }}>
        <DepthZoneColumn />
      </div>
      {tracks.map((t, i) => (
        <div key={`f${i}`} style={{ position: "absolute", left: t.left - PAD, top: PLOT_TOP }}>
          <TrackFront t={t} />
        </div>
      ))}
      <Header />
    </div>
  );
}
